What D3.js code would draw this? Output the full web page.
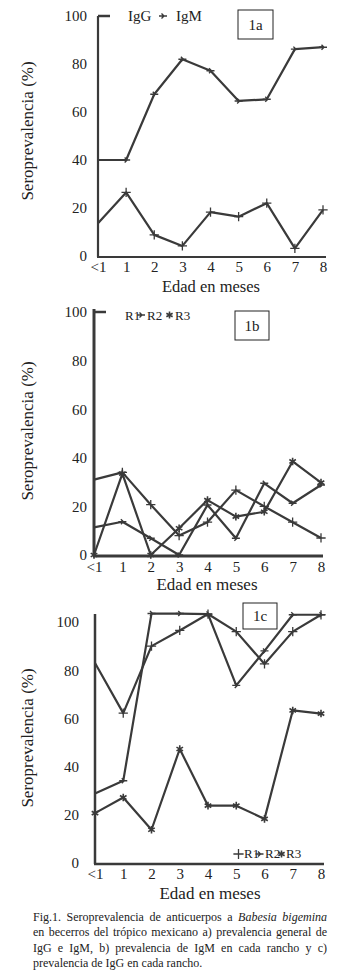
<!DOCTYPE html>
<html>
<head>
<meta charset="utf-8">
<script src="https://cdn.jsdelivr.net/npm/d3@7"></script>
<style>
  body { margin: 0; background: #fff; }
  svg text { font-family: "Liberation Serif", "Times New Roman", "DejaVu Serif", serif; }
</style>
</head>
<body>
<div id="chart"></div>
<script>
"use strict";

// Data
var meses = ["<1", "1", "2", "3", "4", "5", "6", "7", "8"];
var ticksY = [0, 20, 40, 60, 80, 100];

// 1a) general prevalence
var igG = [40, 40, 67.4, 82, 77.2, 64.6, 65.3, 86.2, 87];
var igM = [13.6, 26.5, 8.8, 4.2, 18.3, 16.4, 22, 3.2, 19.2];

// 1b) IgM per ranch
var igmR1 = [31, 34, 20.7, 8, 13.5, 26.7, 20, 13.5, 7];
var igmR2 = [11.4, 13.7, 6.9, 0, 20.6, 6.9, 29.5, 21.3, 28.8];
var igmR3 = [0, 33.5, 0, 11, 22.6, 15.8, 17.8, 38.5, 29.8];

// 1c) IgG per ranch
var iggR1 = [83, 62.2, 90, 96.5, 103.3, 96, 82.6, 96, 103];
var iggR2 = [28.8, 34.1, 103.5, 103.5, 103.3, 73.7, 88, 103, 103];
var iggR3 = [20.7, 27.2, 13.8, 47.3, 23.8, 23.8, 18.3, 63.3, 62];

var caption = [
  ["Fig.1. Seroprevalencia de anticuerpos a ", "Babesia bigemina", ""],
  ["en becerros del trópico mexicano a) prevalencia general de"],
  ["IgG e IgM, b) prevalencia de IgM en cada rancho y c)"],
  ["prevalencia de IgG en cada rancho."]
];

var ink = "#3a3a3a";
var serif = "Liberation Serif, Times New Roman, DejaVu Serif, serif";

var svg = d3.select("#chart").append("svg")
  .attr("width", 343).attr("height", 979)
  .style("display", "block");

// marker shapes: plus, small arrow, asterisk
var symPlus = d3.symbolPlus || d3.symbolCross;
var symAst = d3.symbolAsterisk || d3.symbolStar;

function marker(g, kind, x, y, s) {
  if (kind === 1) {
    g.append("path").attr("d", d3.symbol(symPlus, s || 30)())
      .attr("transform", "translate(" + x + "," + y + ")")
      .attr("fill", "none").attr("stroke", ink).attr("stroke-width", 1.3);
  } else if (kind === 2) {
    g.append("path").attr("d", "M-4,0H4M-1.5,-2.5L1,0L-1.5,2.5")
      .attr("transform", "translate(" + x + "," + y + ")")
      .attr("fill", "none").attr("stroke", ink).attr("stroke-width", 1.4);
  } else {
    g.append("path").attr("d", d3.symbol(symAst, s || 40)())
      .attr("transform", "translate(" + x + "," + y + ")")
      .attr("fill", "none").attr("stroke", ink).attr("stroke-width", 1.6);
  }
}

function label(g, x, y, size, str) {
  return g.append("text").attr("x", x).attr("y", y)
    .attr("font-family", serif).attr("font-size", size)
    .attr("fill", "#222").text(str);
}

var panels = [
  { name: "1a", series: [igG, igM], kinds: [2, 1],
    x0: 98, x1: 323, yBot: 256, yTop: 16, axisTop: 16, axisW: 2.2, xAxisEnd: 326,
    yLabRight: 87, xLabY: 272, titleY: 292, titleX: 211, titleSize: 16.5,
    yTitle: [27, 131], box: [238, 10, 35, 29], topTick: true,
    legend: { y: 21, size: 15, items: [["IgG", 128], ["IgM", 176]], marks: [[2, 163, 16]] } },
  { name: "1b", series: [igmR1, igmR2, igmR3], kinds: [1, 2, 3],
    x0: 94, x1: 321, yBot: 555, yTop: 312, axisTop: 309, axisW: 3, xAxisEnd: 323,
    yLabRight: 87, xLabY: 572, titleY: 590, titleX: 207, titleSize: 17,
    yTitle: [27, 431], box: [235, 311, 34, 29], topTick: true,
    legend: { y: 319.5, size: 13, items: [["R1", 125], ["R2", 147], ["R3", 175]], marks: [[2, 141, 315], [3, 169.5, 315]] } },
  { name: "1c", series: [iggR1, iggR2, iggR3], kinds: [1, 2, 3],
    x0: 95, x1: 321, yBot: 863, yTop: 622, axisTop: 614, axisW: 2.5, xAxisEnd: 324,
    yLabRight: 79, xLabY: 879, titleY: 899, titleX: 210, titleSize: 17,
    yTitle: [27, 738], box: [243, 603, 34, 26], topTick: false,
    legend: { y: 858, size: 13, items: [["R1", 244], ["R2", 265], ["R3", 286]], marks: [[1, 238.5, 854], [2, 259.5, 854], [3, 281.5, 854]] } }
];

panels.forEach(function (p) {
  var g = svg.append("g");

  var x = d3.scalePoint().domain(meses).range([p.x0, p.x1]);
  var y = d3.scaleLinear().domain([0, 100]).range([p.yBot, p.yTop]);

  // y tick labels
  var yAxis = d3.axisLeft(y).tickValues(ticksY).tickSize(0).tickPadding(p.x0 - p.yLabRight);
  var ya = g.append("g").attr("transform", "translate(" + p.x0 + ",0)").call(yAxis)
    .attr("font-family", serif).attr("font-size", 15);
  ya.select(".domain").remove();
  ya.selectAll("text").attr("fill", "#222");

  // x tick labels
  var xAxis = d3.axisBottom(x).tickSize(0).tickPadding(0);
  var xa = g.append("g").attr("transform", "translate(0," + p.xLabY + ")").call(xAxis)
    .attr("font-family", serif).attr("font-size", 15);
  xa.select(".domain").remove();
  xa.selectAll("text").attr("dy", 0).attr("fill", "#222");

  // axis lines
  g.append("line").attr("x1", p.x0).attr("x2", p.x0)
    .attr("y1", p.axisTop).attr("y2", p.yBot + 1)
    .attr("stroke", ink).attr("stroke-width", p.axisW);
  g.append("line").attr("x1", p.x0 - 1).attr("x2", p.xAxisEnd)
    .attr("y1", p.yBot + 1).attr("y2", p.yBot + 1)
    .attr("stroke", ink).attr("stroke-width", p.axisW);
  if (p.topTick) {
    g.append("line").attr("x1", p.x0).attr("x2", p.x0 + 12)
      .attr("y1", y(100)).attr("y2", y(100))
      .attr("stroke", ink).attr("stroke-width", 2.5);
  }

  // series lines
  var line = d3.line().x(function (d, i) { return x(meses[i]); }).y(function (d) { return y(d); });
  p.series.forEach(function (s, k) {
    g.append("path").datum(s).attr("d", line)
      .attr("fill", "none").attr("stroke", ink).attr("stroke-width", 2.2)
      .attr("stroke-linejoin", "round");
    s.forEach(function (v, i) {
      if (i === 0 && p.kinds[k] !== 3) return;
      marker(g, p.kinds[k], x(meses[i]), y(v));
    });
  });

  // titles
  label(g, p.titleX, p.titleY, p.titleSize, "Edad en meses").attr("text-anchor", "middle");
  g.append("text")
    .attr("transform", "translate(" + p.yTitle[0] + "," + p.yTitle[1] + ") rotate(-90)")
    .attr("text-anchor", "middle").attr("dominant-baseline", "central")
    .attr("font-family", serif).attr("font-size", 17).attr("fill", "#222")
    .text("Seroprevalencia (%)");

  // panel box
  g.append("rect").attr("x", p.box[0]).attr("y", p.box[1])
    .attr("width", p.box[2]).attr("height", p.box[3])
    .attr("fill", "#fff").attr("stroke", "#222").attr("stroke-width", 1);
  label(g, p.box[0] + p.box[2] / 2, p.box[1] + p.box[3] / 2, 15, p.name)
    .attr("text-anchor", "middle").attr("dominant-baseline", "central");

  // legend
  p.legend.items.forEach(function (it) {
    label(g, it[1], p.legend.y, p.legend.size, it[0]);
  });
  p.legend.marks.forEach(function (m) { marker(g, m[0], m[1], m[2], 36); });
});

// caption, justified by word spacing
var capLeft = 33, capRight = 327;
caption.forEach(function (parts, i) {
  var t = label(svg, capLeft, 921 + i * 15.4, 12, null);
  parts.forEach(function (s, j) {
    t.append("tspan").attr("font-style", j === 1 ? "italic" : null).text(s);
  });
  if (i < caption.length - 1) {
    var w = t.node().getComputedTextLength();
    var spaces = parts.join("").split(" ").length - 1;
    t.attr("word-spacing", (capRight - capLeft - w) / spaces);
  }
});
</script>
</body>
</html>
